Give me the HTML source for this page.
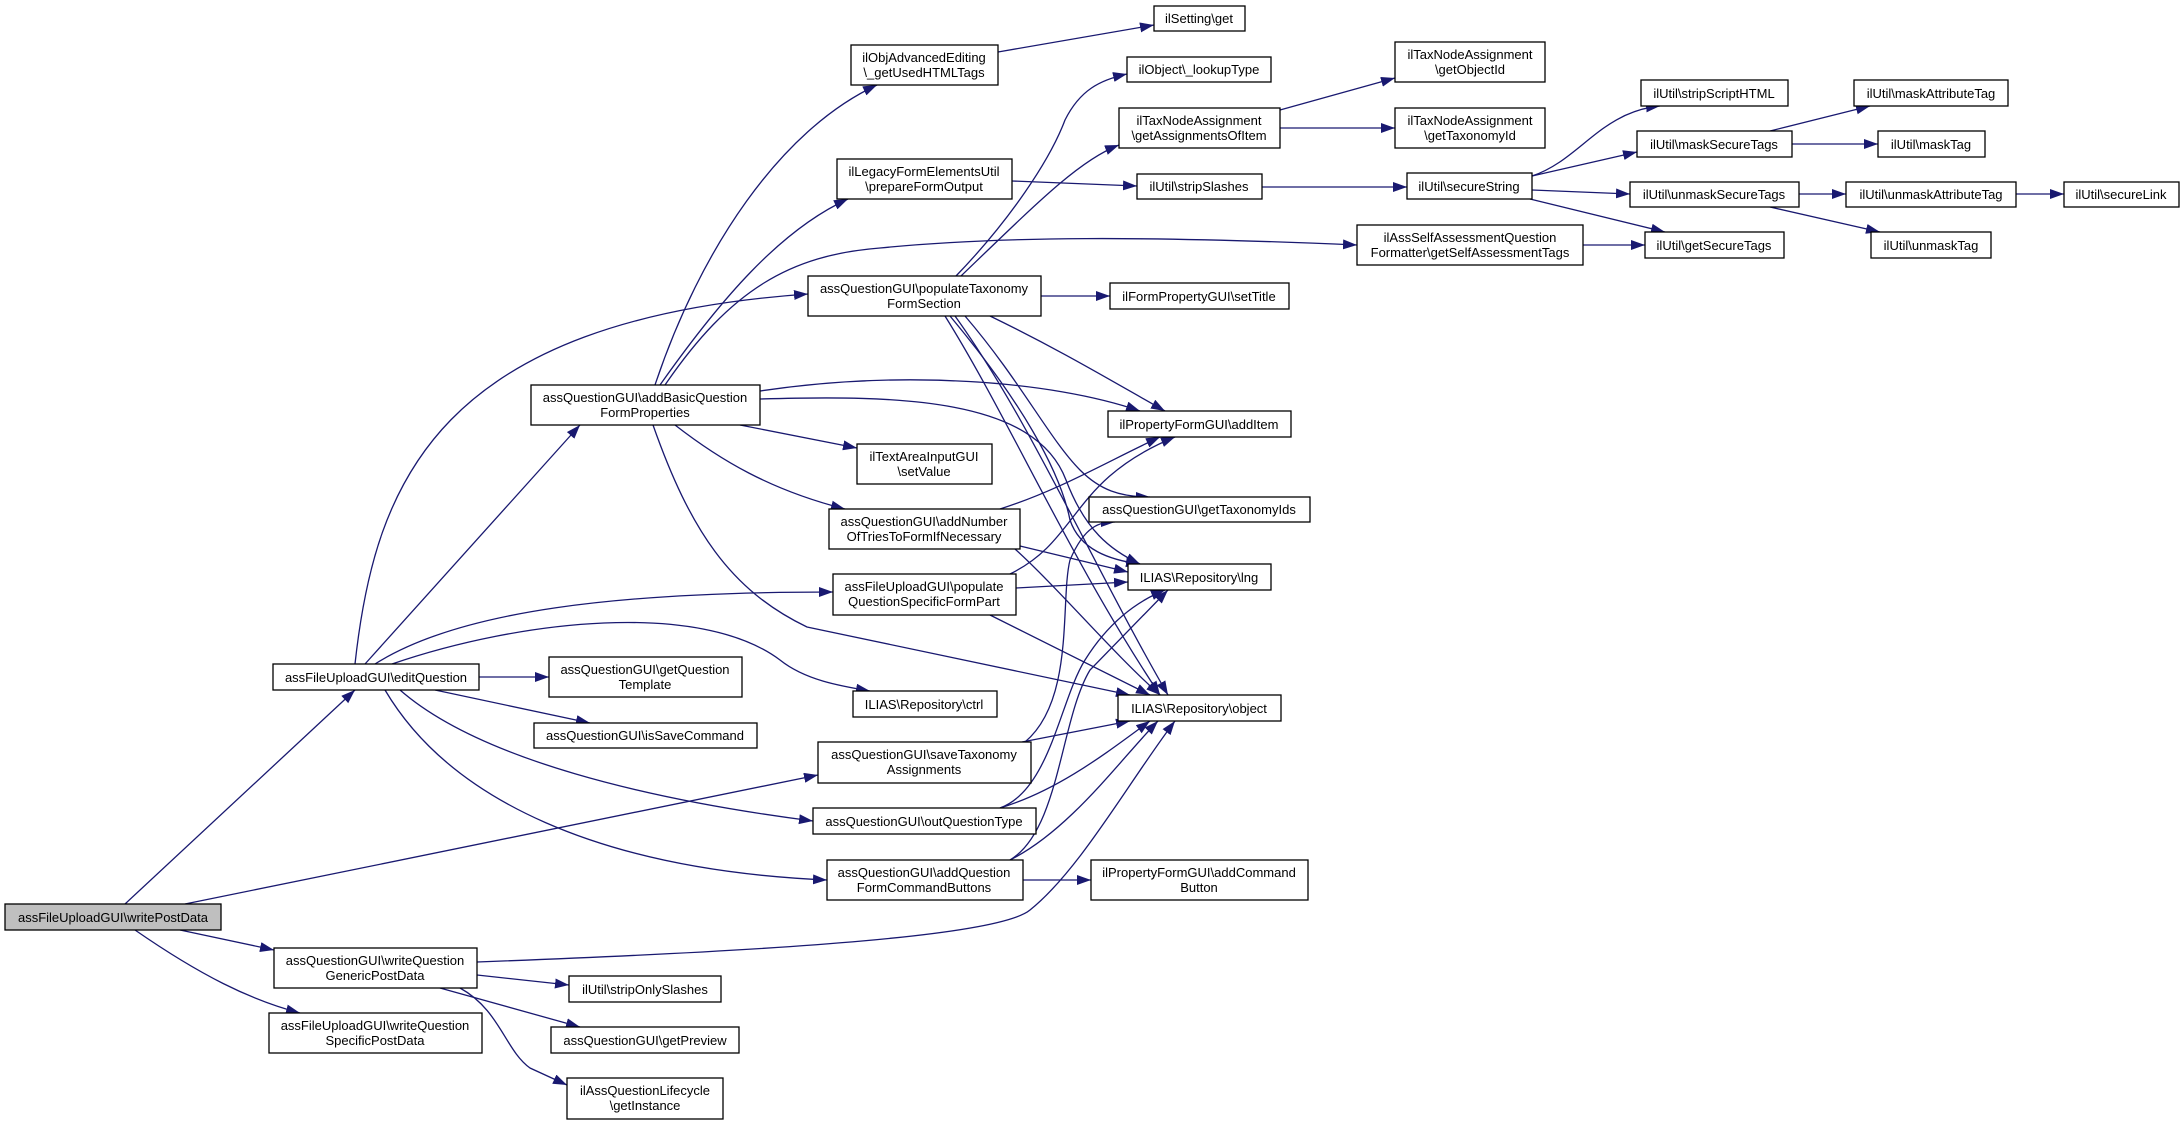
<!DOCTYPE html>
<html><head><meta charset="utf-8"><style>
html,body{margin:0;padding:0;background:#fff;}
svg{display:block;}
text{font-family:"Liberation Sans",Arial,sans-serif;font-size:13px;fill:#000;}
.e{fill:none;stroke:#191970;stroke-width:1.3;}
.n{fill:#fff;stroke:#000;stroke-width:1.3;}
</style></head><body>
<svg width="2184" height="1125" viewBox="0 0 2184 1125" xmlns="http://www.w3.org/2000/svg">
<defs><marker id="a" markerUnits="userSpaceOnUse" markerWidth="16" markerHeight="12" refX="14" refY="5" orient="auto"><path d="M0,0 L14,5 L0,10 Z" fill="#191970"/></marker></defs>
<g marker-end="url(#a)">
<path class="e" d="M125,904 L355,690"/>
<path class="e" d="M185,904 L818,775"/>
<path class="e" d="M180,930 L274,950"/>
<path class="e" d="M135,930 C200,975 250,1000 300,1013"/>
<path class="e" d="M365,664 L580,425"/>
<path class="e" d="M355,664 C375,480 440,320 808,294"/>
<path class="e" d="M375,664 C460,610 620,592 833,592"/>
<path class="e" d="M392,664 C520,620 700,600 780,660 C805,680 840,686 870,691"/>
<path class="e" d="M479,677 L549,677"/>
<path class="e" d="M435,690 L590,723"/>
<path class="e" d="M400,690 C480,760 650,800 813,821"/>
<path class="e" d="M385,690 C450,800 600,870 827,880"/>
<path class="e" d="M655,385 C700,250 780,130 877,85"/>
<path class="e" d="M660,385 C720,300 780,230 848,199"/>
<path class="e" d="M665,385 C730,290 790,255 880,248 C1000,236 1150,236 1357,245"/>
<path class="e" d="M760,391 C900,370 1050,380 1140,411"/>
<path class="e" d="M760,399 C900,395 1035,398 1066,480 C1085,530 1110,550 1140,564"/>
<path class="e" d="M740,425 L857,448"/>
<path class="e" d="M675,425 C720,460 770,490 845,509"/>
<path class="e" d="M653,425 C690,530 730,590 807,627 L1130,695"/>
<path class="e" d="M956,276 C1010,220 1050,160 1065,120 C1080,90 1100,80 1127,74"/>
<path class="e" d="M961,276 C1040,200 1080,160 1119,145"/>
<path class="e" d="M1041,296 L1110,296"/>
<path class="e" d="M990,316 C1060,350 1110,380 1165,411"/>
<path class="e" d="M950,316 C1020,400 1060,470 1070,520 C1080,550 1110,560 1140,564"/>
<path class="e" d="M945,316 C1010,420 1070,560 1160,695"/>
<path class="e" d="M955,316 C1030,420 1090,560 1168,695"/>
<path class="e" d="M965,316 C1020,380 1050,440 1080,470 C1100,490 1120,497 1150,497"/>
<path class="e" d="M998,52 L1154,25"/>
<path class="e" d="M1012,181 L1137,186"/>
<path class="e" d="M1262,187 L1407,187"/>
<path class="e" d="M1280,110 L1395,78"/>
<path class="e" d="M1280,128 L1395,128"/>
<path class="e" d="M1532,176 C1580,160 1600,112 1660,106"/>
<path class="e" d="M1532,176 L1637,152"/>
<path class="e" d="M1532,190 L1630,194"/>
<path class="e" d="M1530,199 L1665,232"/>
<path class="e" d="M1770,131 L1870,106"/>
<path class="e" d="M1792,144 L1878,144"/>
<path class="e" d="M1799,194 L1846,194"/>
<path class="e" d="M1770,207 L1880,232"/>
<path class="e" d="M2016,194 L2064,194"/>
<path class="e" d="M1583,245 L1645,245"/>
<path class="e" d="M1000,509 C1060,490 1110,460 1160,437"/>
<path class="e" d="M1020,546 L1128,572"/>
<path class="e" d="M1015,549 C1060,590 1110,650 1160,695"/>
<path class="e" d="M1010,574 C1080,540 1070,480 1175,437"/>
<path class="e" d="M1016,588 L1128,582"/>
<path class="e" d="M990,615 L1150,695"/>
<path class="e" d="M1025,742 C1075,700 1060,600 1070,560 C1085,525 1100,522 1115,522"/>
<path class="e" d="M1022,742 L1130,721"/>
<path class="e" d="M1000,808 C1050,790 1060,700 1085,660 C1110,620 1140,600 1165,590"/>
<path class="e" d="M1000,808 C1060,790 1110,750 1150,721"/>
<path class="e" d="M1010,860 C1060,830 1060,720 1090,670 L1168,590"/>
<path class="e" d="M1010,860 C1070,830 1120,760 1158,721"/>
<path class="e" d="M1023,880 L1091,880"/>
<path class="e" d="M477,962 C800,950 1000,935 1030,910 C1080,870 1130,780 1175,721"/>
<path class="e" d="M477,975 L569,985"/>
<path class="e" d="M440,988 L580,1027"/>
<path class="e" d="M460,988 C500,1010 505,1050 530,1068 L567,1085"/>
</g>
<g>
<rect x="5" y="904" width="216" height="26" fill="#bfbfbf" stroke="#000" stroke-width="1.3"/><text x="113" y="922" text-anchor="middle">assFileUploadGUI\writePostData</text>
<rect class="n" x="273" y="664" width="206" height="26"/><text x="376" y="682" text-anchor="middle">assFileUploadGUI\editQuestion</text>
<rect class="n" x="549" y="657" width="193" height="40"/><text x="645" y="674" text-anchor="middle">assQuestionGUI\getQuestion</text><text x="645" y="689" text-anchor="middle">Template</text>
<rect class="n" x="534" y="723" width="223" height="25"/><text x="645" y="740" text-anchor="middle">assQuestionGUI\isSaveCommand</text>
<rect class="n" x="274" y="948" width="203" height="40"/><text x="375" y="965" text-anchor="middle">assQuestionGUI\writeQuestion</text><text x="375" y="980" text-anchor="middle">GenericPostData</text>
<rect class="n" x="269" y="1013" width="213" height="40"/><text x="375" y="1030" text-anchor="middle">assFileUploadGUI\writeQuestion</text><text x="375" y="1045" text-anchor="middle">SpecificPostData</text>
<rect class="n" x="569" y="976" width="152" height="26"/><text x="645" y="994" text-anchor="middle">ilUtil\stripOnlySlashes</text>
<rect class="n" x="551" y="1027" width="188" height="26"/><text x="645" y="1045" text-anchor="middle">assQuestionGUI\getPreview</text>
<rect class="n" x="567" y="1078" width="156" height="41"/><text x="645" y="1095" text-anchor="middle">ilAssQuestionLifecycle</text><text x="645" y="1110" text-anchor="middle">\getInstance</text>
<rect class="n" x="531" y="385" width="229" height="40"/><text x="645" y="402" text-anchor="middle">assQuestionGUI\addBasicQuestion</text><text x="645" y="417" text-anchor="middle">FormProperties</text>
<rect class="n" x="851" y="45" width="147" height="40"/><text x="924" y="62" text-anchor="middle">ilObjAdvancedEditing</text><text x="924" y="77" text-anchor="middle">\_getUsedHTMLTags</text>
<rect class="n" x="1154" y="6" width="91" height="25"/><text x="1199" y="23" text-anchor="middle">ilSetting\get</text>
<rect class="n" x="1127" y="57" width="144" height="25"/><text x="1199" y="74" text-anchor="middle">ilObject\_lookupType</text>
<rect class="n" x="1119" y="108" width="161" height="40"/><text x="1199" y="125" text-anchor="middle">ilTaxNodeAssignment</text><text x="1199" y="140" text-anchor="middle">\getAssignmentsOfItem</text>
<rect class="n" x="837" y="159" width="175" height="40"/><text x="924" y="176" text-anchor="middle">ilLegacyFormElementsUtil</text><text x="924" y="191" text-anchor="middle">\prepareFormOutput</text>
<rect class="n" x="1137" y="174" width="125" height="25"/><text x="1199" y="191" text-anchor="middle">ilUtil\stripSlashes</text>
<rect class="n" x="808" y="276" width="233" height="40"/><text x="924" y="293" text-anchor="middle">assQuestionGUI\populateTaxonomy</text><text x="924" y="308" text-anchor="middle">FormSection</text>
<rect class="n" x="1110" y="283" width="179" height="26"/><text x="1199" y="301" text-anchor="middle">ilFormPropertyGUI\setTitle</text>
<rect class="n" x="1108" y="411" width="183" height="26"/><text x="1199" y="429" text-anchor="middle">ilPropertyFormGUI\addItem</text>
<rect class="n" x="857" y="444" width="135" height="40"/><text x="924" y="461" text-anchor="middle">ilTextAreaInputGUI</text><text x="924" y="476" text-anchor="middle">\setValue</text>
<rect class="n" x="829" y="509" width="191" height="40"/><text x="924" y="526" text-anchor="middle">assQuestionGUI\addNumber</text><text x="924" y="541" text-anchor="middle">OfTriesToFormIfNecessary</text>
<rect class="n" x="1089" y="497" width="221" height="25"/><text x="1199" y="514" text-anchor="middle">assQuestionGUI\getTaxonomyIds</text>
<rect class="n" x="1128" y="564" width="143" height="26"/><text x="1199" y="582" text-anchor="middle">ILIAS\Repository\lng</text>
<rect class="n" x="833" y="574" width="183" height="41"/><text x="924" y="591" text-anchor="middle">assFileUploadGUI\populate</text><text x="924" y="606" text-anchor="middle">QuestionSpecificFormPart</text>
<rect class="n" x="853" y="691" width="144" height="26"/><text x="924" y="709" text-anchor="middle">ILIAS\Repository\ctrl</text>
<rect class="n" x="1118" y="695" width="163" height="26"/><text x="1199" y="713" text-anchor="middle">ILIAS\Repository\object</text>
<rect class="n" x="818" y="742" width="213" height="41"/><text x="924" y="759" text-anchor="middle">assQuestionGUI\saveTaxonomy</text><text x="924" y="774" text-anchor="middle">Assignments</text>
<rect class="n" x="813" y="808" width="223" height="26"/><text x="924" y="826" text-anchor="middle">assQuestionGUI\outQuestionType</text>
<rect class="n" x="827" y="860" width="196" height="40"/><text x="924" y="877" text-anchor="middle">assQuestionGUI\addQuestion</text><text x="924" y="892" text-anchor="middle">FormCommandButtons</text>
<rect class="n" x="1091" y="860" width="217" height="40"/><text x="1199" y="877" text-anchor="middle">ilPropertyFormGUI\addCommand</text><text x="1199" y="892" text-anchor="middle">Button</text>
<rect class="n" x="1395" y="42" width="150" height="40"/><text x="1470" y="59" text-anchor="middle">ilTaxNodeAssignment</text><text x="1470" y="74" text-anchor="middle">\getObjectId</text>
<rect class="n" x="1395" y="108" width="150" height="40"/><text x="1470" y="125" text-anchor="middle">ilTaxNodeAssignment</text><text x="1470" y="140" text-anchor="middle">\getTaxonomyId</text>
<rect class="n" x="1641" y="80" width="147" height="26"/><text x="1714" y="98" text-anchor="middle">ilUtil\stripScriptHTML</text>
<rect class="n" x="1854" y="80" width="154" height="26"/><text x="1931" y="98" text-anchor="middle">ilUtil\maskAttributeTag</text>
<rect class="n" x="1637" y="131" width="155" height="26"/><text x="1714" y="149" text-anchor="middle">ilUtil\maskSecureTags</text>
<rect class="n" x="1878" y="131" width="107" height="26"/><text x="1931" y="149" text-anchor="middle">ilUtil\maskTag</text>
<rect class="n" x="1407" y="173" width="125" height="26"/><text x="1469" y="191" text-anchor="middle">ilUtil\secureString</text>
<rect class="n" x="1630" y="182" width="169" height="25"/><text x="1714" y="199" text-anchor="middle">ilUtil\unmaskSecureTags</text>
<rect class="n" x="1846" y="182" width="170" height="25"/><text x="1931" y="199" text-anchor="middle">ilUtil\unmaskAttributeTag</text>
<rect class="n" x="2064" y="182" width="115" height="25"/><text x="2121" y="199" text-anchor="middle">ilUtil\secureLink</text>
<rect class="n" x="1357" y="225" width="226" height="40"/><text x="1470" y="242" text-anchor="middle">ilAssSelfAssessmentQuestion</text><text x="1470" y="257" text-anchor="middle">Formatter\getSelfAssessmentTags</text>
<rect class="n" x="1645" y="232" width="139" height="26"/><text x="1714" y="250" text-anchor="middle">ilUtil\getSecureTags</text>
<rect class="n" x="1871" y="232" width="120" height="26"/><text x="1931" y="250" text-anchor="middle">ilUtil\unmaskTag</text>
</g>
</svg>
</body></html>
